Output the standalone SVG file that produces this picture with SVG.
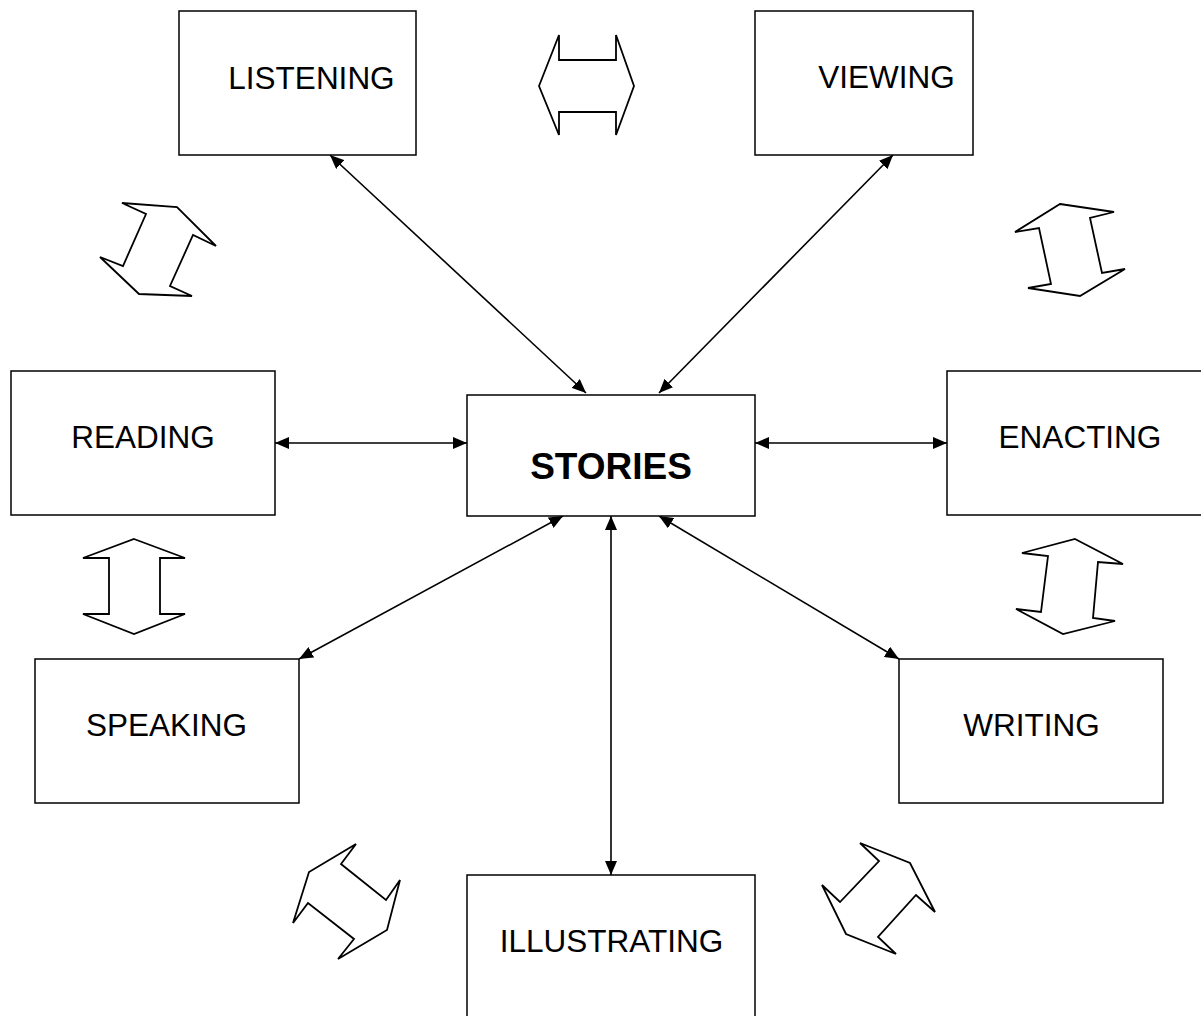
<svg xmlns="http://www.w3.org/2000/svg" width="1201" height="1016" viewBox="0 0 1201 1016">
<style>
.box{fill:#fff;stroke:#000;stroke-width:1.5}
.lbl{font-family:"Liberation Sans",Arial,sans-serif;font-size:31.5px;fill:#000;text-anchor:middle}
.big{font-family:"Liberation Sans",Arial,sans-serif;font-size:37px;font-weight:bold;fill:#000;text-anchor:middle}
.con{stroke:#000;stroke-width:1.6;fill:none;marker-start:url(#ah);marker-end:url(#ah)}
.blk{fill:#fff;stroke:#000;stroke-width:1.8;stroke-linejoin:miter}
</style>
<defs>
<marker id="ah" viewBox="0 0 14 12" refX="14" refY="6" markerWidth="14" markerHeight="12" markerUnits="userSpaceOnUse" orient="auto-start-reverse">
<path d="M0,0 L14,6 L0,12 Z" fill="#000"/>
</marker>
</defs>
<rect width="1201" height="1016" fill="#fff"/>
<g id="connectors">
<line class="con" x1="330" y1="155" x2="586" y2="393"/>
<line class="con" x1="893" y1="155" x2="659" y2="393"/>
<line class="con" x1="275" y1="443" x2="467" y2="443"/>
<line class="con" x1="755" y1="443" x2="947" y2="443"/>
<line class="con" x1="563" y1="516" x2="299" y2="659"/>
<line class="con" x1="611" y1="516" x2="611" y2="875"/>
<line class="con" x1="659" y1="516" x2="899" y2="659"/>
</g>
<g id="block-arrows">
<path class="blk" d="M539,86 L559,35 L559,60 L616,60 L616,35 L634,86 L616,135 L616,112 L559,112 L559,135 Z"/>
<path class="blk" d="M122,203 L177,207 L216,246 L193,235 L170,286 L192,296 L139,294 L100,257 L123,266 L146,214 Z"/>
<path class="blk" d="M1060,204 L1114,212 L1090,218 L1102,273 L1125,269 L1080,296 L1028,288 L1051,284 L1039,228 L1015,232 Z"/>
<path class="blk" d="M134,539 L185,558 L160,558 L160,614 L185,614 L134,634 L83,614 L109,614 L109,558 L83,558 Z"/>
<path class="blk" d="M1075,539 L1123,564 L1098,562 L1093,618 L1115,621 L1063,634 L1016,609 L1041,612 L1048,556 L1022,553 Z"/>
<path class="blk" d="M356,844 L341,864 L386,900 L400,880 L387,930 L338,959 L354,939 L308,903 L293,923 L309,872 Z"/>
<path class="blk" d="M860,843 L910,863 L935,912 L916,895 L878,937 L896,954 L846,934 L822,885 L840,902 L879,861 Z"/>
</g>
<g id="listening"><rect class="box" x="179" y="11" width="237" height="144"/><text class="lbl" x="311.5" y="89">LISTENING</text></g>
<g id="viewing"><rect class="box" x="755" y="11" width="218" height="144"/><text class="lbl" x="886.5" y="88">VIEWING</text></g>
<g id="reading"><rect class="box" x="11" y="371" width="264" height="144"/><text class="lbl" x="143" y="448">READING</text></g>
<g id="stories"><rect class="box" x="467" y="395" width="288" height="121"/><text class="big" x="611" y="479">STORIES</text></g>
<g id="enacting"><rect class="box" x="947" y="371" width="262" height="144"/><text class="lbl" x="1080" y="448">ENACTING</text></g>
<g id="speaking"><rect class="box" x="35" y="659" width="264" height="144"/><text class="lbl" x="166.5" y="736">SPEAKING</text></g>
<g id="writing"><rect class="box" x="899" y="659" width="264" height="144"/><text class="lbl" x="1031.5" y="736">WRITING</text></g>
<g id="illustrating"><rect class="box" x="467" y="875" width="288" height="160"/><text class="lbl" x="611.5" y="952">ILLUSTRATING</text></g>
</svg>
